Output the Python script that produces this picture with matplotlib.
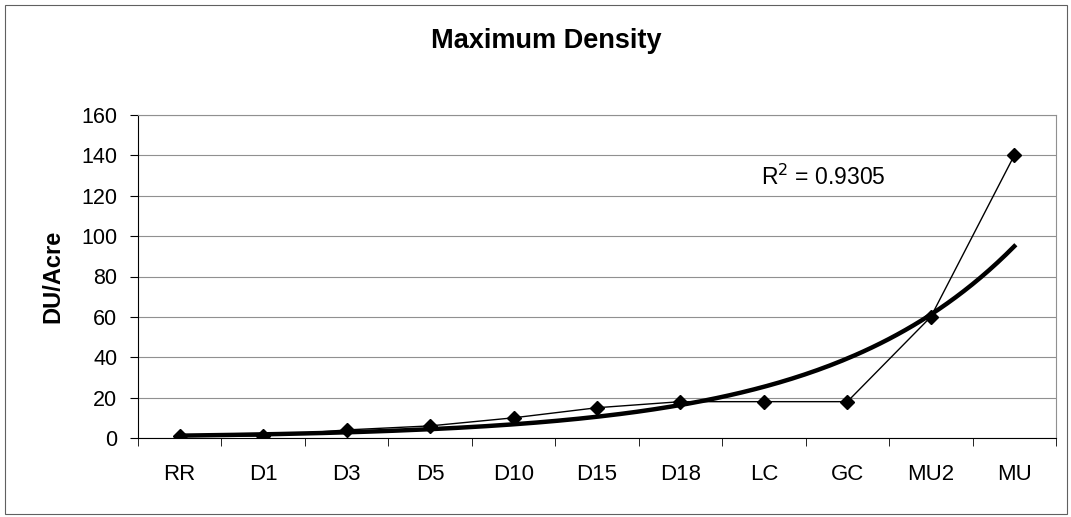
import numpy as np
import matplotlib.pyplot as plt
from matplotlib.patches import Rectangle

plt.rcParams['font.family'] = ['Liberation Sans', 'DejaVu Sans']

zones = ["RR", "D1", "D3", "D5", "D10", "D15", "D18", "LC", "GC", "MU2", "MU"]
density = [1, 1, 4, 6, 10, 15, 18, 18, 18, 60, 140]
r2_text = "R$^2$ = 0.9305"

x = np.arange(1, len(zones) + 1)
y = np.array(density, dtype=float)

# exponential trendline, fit on log values like Excel does
b, ln_a = np.polyfit(x, np.log(y), 1)
xt = np.linspace(1, len(zones), 200)
yt = np.exp(ln_a) * np.exp(b * xt)

fig = plt.figure(figsize=(10.71, 5.17), dpi=100)
ax = fig.add_axes([138 / 1071, 1 - 438 / 517, (1056 - 138) / 1071, (438 - 115) / 517])

ax.plot(xt, yt, color="black", linewidth=3.2, zorder=3)
ax.plot(x, y, color="black", linewidth=1, marker="D", markersize=7.5, zorder=4)

ax.set_xlim(0.5, len(zones) + 0.5)
ax.set_ylim(0, 160)
ax.set_yticks(np.arange(0, 161, 20))
ax.set_xticks(x)
ax.set_xticklabels(zones)
ax.set_xticks(np.arange(0.5, len(zones) + 1, 1), minor=True)
ax.tick_params(axis="x", which="major", length=0, pad=19, labelsize=16)
ax.tick_params(axis="x", which="minor", length=6, direction="out", color="black")
ax.tick_params(axis="y", length=6, direction="out", labelsize=15.5, pad=9)
ax.grid(axis="y", color="#909090", linewidth=0.8)
ax.set_axisbelow(True)

for s in ["top", "right"]:
    ax.spines[s].set_color("#909090")
    ax.spines[s].set_linewidth(0.8)
ax.spines["left"].set_color("black")
ax.spines["bottom"].set_color("black")

ax.set_ylabel("DU/Acre", fontsize=17, fontweight="bold", labelpad=12)
fig.text(546 / 1071, 1 - 48 / 517, "Maximum Density", ha="center", va="baseline",
         fontsize=19.5, fontweight="bold")
ax.text(7.96, 129, r2_text, fontsize=16.5, va="center")

fig.patches.append(Rectangle((5 / 1071, 0.005), 1 - 9 / 1071, 1 - 8 / 517,
                             transform=fig.transFigure, fill=False,
                             edgecolor="#606060", linewidth=0.8))

fig.savefig("out.png", dpi=100)
